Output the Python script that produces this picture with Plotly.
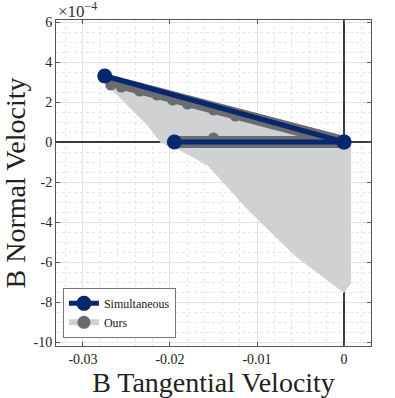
import plotly.graph_objects as go

# y values in units of 1e-4
# Simultaneous (two segments, separated by None)
sim_x = [-0.0275, 0.0, None, -0.0195, 0.0]
sim_y = [3.3, 0.0, None, 0.0, 0.0]

# Ours - dark band along the same segments
ours_x = [-0.0272, 0.0, None, -0.0195, 0.0]
ours_y = [3.1, 0.0, None, 0.0, 0.0]

# Ours - sampled points (bumps on the band)
pts_x = [-0.0268, -0.0256, -0.0235, -0.0215, -0.0197, -0.018, -0.015, -0.0125, -0.015]
pts_y = [2.85, 2.75, 2.55, 2.35, 2.1, 1.9, 1.6, 1.3, 0.2]

# Ours - spread region outline
reg_x = [-0.0270, -0.0261, -0.0223, -0.0208, -0.0185, -0.0154, -0.0108, -0.0054,
         -0.0010, -0.0001, 0.0004, 0.0004, -0.0003, -0.0270]
reg_y = [2.9, 2.6, 0.95, 0.1, -0.3, -1.05, -3.25, -5.55,
         -7.0, -7.3, -7.0, -0.1, -0.2, 2.9]

xticks = [-0.03, -0.02, -0.01, 0]
xticklabels = ["-0.03", "-0.02", "-0.01", "0"]
yticks = [-10, -8, -6, -4, -2, 0, 2, 4, 6]

navy = "#07276e"
dgray = "#6b6c70"
lgray = "#d0d1d3"
serif = "Liberation Serif, Times New Roman, serif"

fig = go.Figure()

fig.add_trace(go.Scatter(
    x=reg_x, y=reg_y, mode="lines", fill="toself",
    fillcolor=lgray, line=dict(color=lgray, width=7),
    showlegend=False, hoverinfo="skip"))

fig.add_trace(go.Scatter(
    x=ours_x, y=ours_y, mode="lines",
    line=dict(color=dgray, width=12), showlegend=False, hoverinfo="skip"))

fig.add_trace(go.Scatter(
    x=pts_x, y=pts_y, mode="markers",
    marker=dict(color=dgray, size=11), showlegend=False, hoverinfo="skip"))

fig.add_trace(go.Scatter(
    x=sim_x, y=sim_y, mode="lines+markers", name="Simultaneous",
    line=dict(color=navy, width=5), marker=dict(color=navy, size=15)))

# legend entry for Ours
fig.add_trace(go.Scatter(
    x=[None], y=[None], mode="lines+markers", name="Ours",
    line=dict(color=lgray, width=6), marker=dict(color=dgray, size=13)))

axis_common = dict(
    showline=True, linecolor="#555", linewidth=1, mirror="ticks",
    ticks="inside", ticklen=4, tickcolor="#555",
    showgrid=True, gridcolor="#e4e4e4", gridwidth=1,
    zeroline=True, zerolinecolor="#3a3a3a", zerolinewidth=2,
    tickfont=dict(family=serif, size=14, color="#222"),
    automargin=False,
)

fig.update_xaxes(
    range=[-0.0331, 0.0031], tickvals=xticks, ticktext=xticklabels,
    minor=dict(dtick=0.002, showgrid=True, gridcolor="#e6e6e6", griddash="dot", ticks=""),
    title=dict(text="B Tangential Velocity", font=dict(family=serif, size=28, color="#222"), standoff=4),
    **axis_common)

fig.update_yaxes(
    range=[-10.2, 6.1], tickvals=yticks, ticktext=[str(v) for v in yticks],
    minor=dict(dtick=0.5, showgrid=True, gridcolor="#e6e6e6", griddash="dot", ticks=""),
    title=dict(text="B Normal Velocity", font=dict(family=serif, size=28, color="#222"), standoff=1),
    **axis_common)

fig.update_layout(
    width=395, height=398,
    margin=dict(l=56, r=24, t=20, b=52),
    plot_bgcolor="white", paper_bgcolor="white",
    legend=dict(x=0.022, y=0.025, xanchor="left", yanchor="bottom",
                bgcolor="white", bordercolor="#777", borderwidth=1,
                font=dict(family=serif, size=12, color="#222"),
                itemwidth=30, tracegroupgap=0),
    annotations=[dict(text="×10<sup>−4</sup>", xref="paper", yref="paper",
                      x=0.0, y=1.0, xanchor="left", yanchor="bottom", yshift=-3,
                      showarrow=False, font=dict(family=serif, size=17, color="#333"))],
)

# drop the default page margin so the figure fills the window
fig.write_html("out.html", config={"displayModeBar": False},
               post_script="document.body.style.margin='0';")
